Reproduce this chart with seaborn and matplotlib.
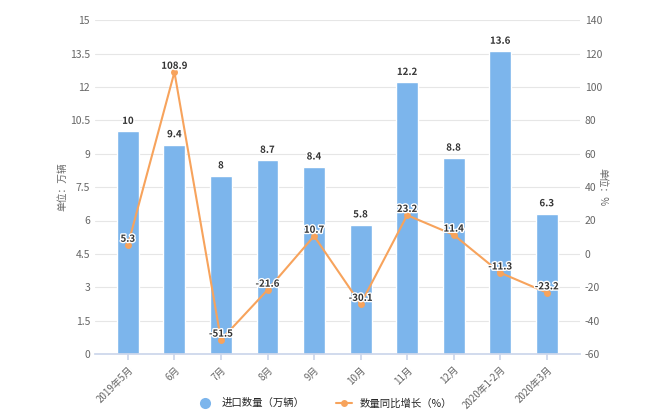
import matplotlib
matplotlib.use("Agg")
import matplotlib.pyplot as plt
import matplotlib.patheffects as pe
from matplotlib.lines import Line2D
import seaborn as sns
import pandas as pd

months = ["2019年5月", "6月", "7月", "8月", "9月", "10月", "11月", "12月", "2020年1-2月", "2020年3月"]
qty = [10, 9.4, 8, 8.7, 8.4, 5.8, 12.2, 8.8, 13.6, 6.3]
growth = [5.3, 108.9, -51.5, -21.6, 10.7, -30.1, 23.2, 11.4, -11.3, -23.2]
left_ticks = [0, 1.5, 3, 4.5, 6, 7.5, 9, 10.5, 12, 13.5, 15]
right_ticks = [-60, -40, -20, 0, 20, 40, 60, 80, 100, 120, 140]

sns.set_theme(style="white")
plt.rcParams['font.family'] = ['Noto Sans CJK SC', 'DejaVu Sans']

bar_color = "#7cb5ec"
line_color = "#f7a35c"

df = pd.DataFrame({"month": months, "qty": qty, "growth": growth})

fig = plt.figure(figsize=(6.5, 4.2), dpi=100)
ax1 = fig.add_axes([0.146, 0.157, 0.746, 0.795])
ax2 = ax1.twinx()

sns.barplot(data=df, x="month", y="qty", color=bar_color, width=0.47, ax=ax1,
            saturation=1, zorder=2)
ax1.set_ylim(0, 15)
ax1.set_yticks(left_ticks)
ax1.set_yticklabels([f"{t:g}" for t in left_ticks])
ax1.yaxis.grid(True, color="#e6e6e6", linewidth=0.8)
ax1.set_axisbelow(True)
for s in ["top", "right", "left"]:
    ax1.spines[s].set_visible(False)
ax1.spines["bottom"].set_color("#ccd6eb")
ax1.set_xlabel("")
ax1.set_ylabel("单位：万辆", fontsize=7, color="#666666", labelpad=2)
ax1.tick_params(axis="y", labelsize=7.5, colors="#666666", length=0)
ax1.tick_params(axis="x", labelsize=7, colors="#666666", length=4, color="#ccd6eb", bottom=True)
plt.setp(ax1.get_xticklabels(), rotation=45, ha="right", rotation_mode="anchor")

for i, v in enumerate(qty):
    ax1.text(i, v + 0.25, f"{v:g}", ha="center", va="bottom", fontsize=7,
             fontweight="bold", color="#333333",
             path_effects=[pe.withStroke(linewidth=2, foreground="white")])

sns.lineplot(data=df, x="month", y="growth", color=line_color, marker="o",
             markersize=5, markeredgewidth=0, linewidth=1.5, ax=ax2, sort=False)
ax2.set_ylim(-60, 140)
ax2.set_yticks(right_ticks)
ax2.set_yticklabels([f"{t:g}" for t in right_ticks])
for s in ["top", "right", "left", "bottom"]:
    ax2.spines[s].set_visible(False)
ax2.set_ylabel("单位：%", fontsize=7, color="#666666", rotation=270, labelpad=4)
ax2.tick_params(axis="y", labelsize=7.5, colors="#666666", length=0)

for i, v in enumerate(growth):
    ax2.annotate(f"{v:g}", (i, v), xytext=(0, 4.5), textcoords="offset points",
                 ha="center", va="center", fontsize=7, fontweight="bold",
                 color="#333333",
                 path_effects=[pe.withStroke(linewidth=2, foreground="white")])

handles = [
    Line2D([0], [0], marker="o", color="none", markerfacecolor=bar_color,
           markeredgewidth=0, markersize=8),
    Line2D([0], [0], marker="o", color=line_color, markerfacecolor=line_color,
           markeredgewidth=0, markersize=5, linewidth=1.5),
]
fig.legend(handles, ["进口数量（万辆）", "数量同比增长（%）"], loc="center",
           bbox_to_anchor=(0.5, 0.04), ncol=2, frameon=False, fontsize=7.5,
           handlelength=1.5, columnspacing=3)

fig.savefig("out.png", dpi=100)
